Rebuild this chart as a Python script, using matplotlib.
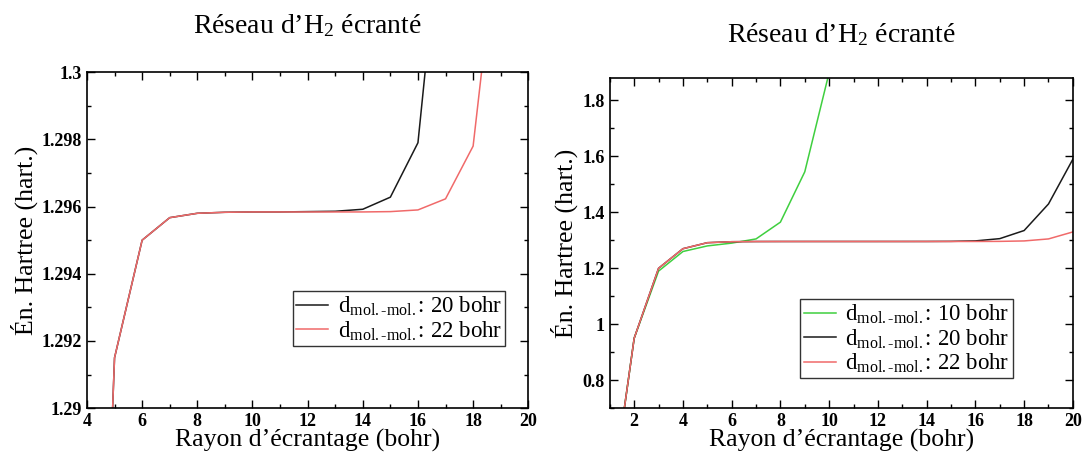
"""Hartree energy vs screening radius for a screened H2 lattice (two panels)."""
import matplotlib
matplotlib.use("Agg")
import matplotlib.pyplot as plt
from matplotlib.ticker import MultipleLocator

plt.rcParams["font.family"] = ["Liberation Serif", "DejaVu Serif"]
plt.rcParams["mathtext.fontset"] = "custom"
plt.rcParams["mathtext.rm"] = "Liberation Serif"
plt.rcParams["mathtext.it"] = "Liberation Serif:italic"

# ---- data: screening radius (bohr) vs Hartree energy (hart.) ----
rayon = [1, 2, 3, 4, 5, 6, 7, 8, 9, 10, 11, 12, 13, 14, 15, 16, 17, 18, 19, 20]
e_10 = [0.33, 0.95, 1.19, 1.26, 1.28, 1.29, 1.305, 1.365, 1.545, 1.90]
e_20 = [0.33, 0.95, 1.20, 1.27, 1.2915, 1.2950, 1.29567, 1.29580, 1.29583, 1.29584,
        1.29584, 1.29585, 1.29586, 1.29592, 1.29628, 1.2979, 1.306, 1.335, 1.43, 1.59]
e_22 = [0.33, 0.95, 1.20, 1.27, 1.2915, 1.2950, 1.29567, 1.29580, 1.29583, 1.29584,
        1.29584, 1.29584, 1.29584, 1.29584, 1.29585, 1.2959, 1.29623, 1.2978, 1.305, 1.33]

yt_left = [1.29, 1.292, 1.294, 1.296, 1.298, 1.30]
yl_left = ["1.29", "1.292", "1.294", "1.296", "1.298", "1.3"]
yt_right = [0.8, 1.0, 1.2, 1.4, 1.6, 1.8]
yl_right = ["0.8", "1", "1.2", "1.4", "1.6", "1.8"]

lab_10 = r"d$_{\rm mol.\text{-}mol.}$: 10 bohr"
lab_20 = r"d$_{\rm mol.\text{-}mol.}$: 20 bohr"
lab_22 = r"d$_{\rm mol.\text{-}mol.}$: 22 bohr"
titre = "Réseau d’H$_2$ écranté"
xlab = "Rayon d’écrantage (bohr)"
ylab = "Én. Hartree (hart.)"

GREEN, BLACK, RED = "#3fcf3f", "#1a1a1a", "#f06a6a"

fig = plt.figure(figsize=(10.87, 4.54), dpi=100)
ax1 = fig.add_axes([0.080, 0.101, 0.406, 0.740])
ax2 = fig.add_axes([0.561, 0.101, 0.426, 0.727])


def style(ax):
    ax.tick_params(which="both", direction="in", top=True, right=True, labelsize=13)
    ax.tick_params(which="major", length=6, width=1)
    ax.tick_params(which="minor", length=3, width=1)
    for lbl in ax.get_xticklabels() + ax.get_yticklabels():
        lbl.set_fontweight("bold")
    for s in ax.spines.values():
        s.set_linewidth(1.2)
    ax.set_xlabel(xlab, fontsize=18.5, labelpad=-1)
    ax.set_ylabel(ylab, fontsize=18.5, labelpad=3)


def leg(ax, anchor):
    ax.legend(loc="lower right", bbox_to_anchor=anchor, fontsize=16.5, frameon=True,
              fancybox=False, edgecolor="#333333", handlelength=1.4, handletextpad=0.4,
              borderpad=0.15, labelspacing=0.05, borderaxespad=0, framealpha=1)


# ---- left: zoom on the plateau ----
ax1.plot(rayon, e_20, color=BLACK, lw=1.1, label=lab_20)
ax1.plot(rayon, e_22, color=RED, lw=1.1, label=lab_22)
ax1.set_xlim(4, 20)
ax1.set_ylim(1.29, 1.30)
ax1.xaxis.set_major_locator(MultipleLocator(2))
ax1.xaxis.set_minor_locator(MultipleLocator(1))
ax1.set_yticks(yt_left, yl_left)
ax1.yaxis.set_minor_locator(MultipleLocator(0.001))
style(ax1)
ax1.set_title(titre, fontsize=20, pad=28)
leg(ax1, (0.948, 0.185))

# ---- right: full range ----
ax2.plot(rayon[:len(e_10)], e_10, color=GREEN, lw=1.1, label=lab_10)
ax2.plot(rayon, e_20, color=BLACK, lw=1.1, label=lab_20)
ax2.plot(rayon, e_22, color=RED, lw=1.1, label=lab_22)
ax2.set_xlim(1, 20)
ax2.set_ylim(0.7, 1.88)
ax2.xaxis.set_major_locator(MultipleLocator(2))
ax2.xaxis.set_minor_locator(MultipleLocator(1))
ax2.set_yticks(yt_right, yl_right)
ax2.yaxis.set_minor_locator(MultipleLocator(0.1))
style(ax2)
ax2.set_title(titre, fontsize=20, pad=26)
leg(ax2, (0.87, 0.09))

fig.savefig("out.png", dpi=100)
